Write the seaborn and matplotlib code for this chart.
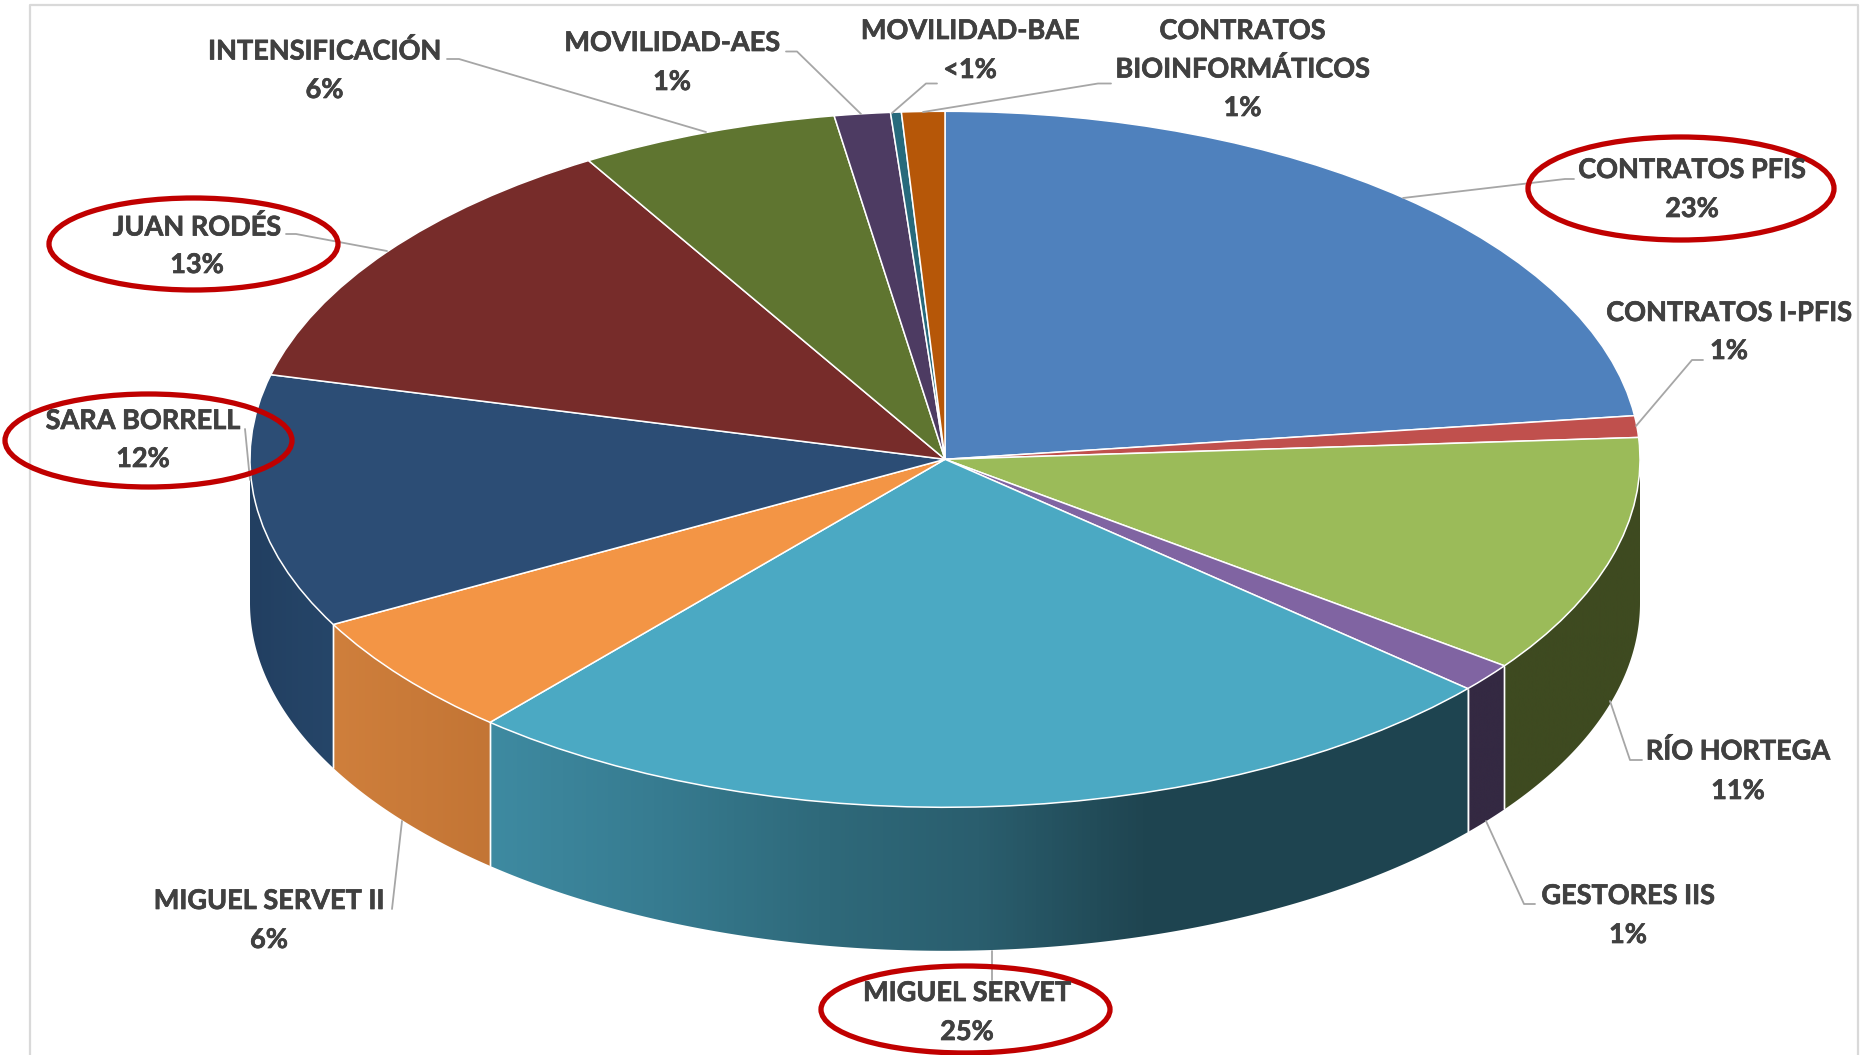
import numpy as np
import matplotlib
matplotlib.use("Agg")
import matplotlib.pyplot as plt
import matplotlib.patheffects as pe
from matplotlib.patches import Ellipse, Polygon
from matplotlib.colors import LinearSegmentedColormap
import seaborn as sns

# ---- data (clockwise from 12 o'clock) ----
categories = ["CONTRATOS PFIS", "CONTRATOS I-PFIS", "RÍO HORTEGA", "GESTORES IIS",
              "MIGUEL SERVET", "MIGUEL SERVET II", "SARA BORRELL", "JUAN RODÉS",
              "INTENSIFICACIÓN", "MOVILIDAD-AES", "MOVILIDAD-BAE",
              "CONTRATOS\nBIOINFORMÁTICOS"]
values = [23.0, 1.0, 11.11, 1.34, 24.91, 5.77, 11.78, 12.52, 6.02, 1.3, 0.25, 1.0]
pct_labels = ["23%", "1%", "11%", "1%", "25%", "6%", "12%", "13%", "6%", "1%", "<1%", "1%"]
highlighted = ["CONTRATOS PFIS", "MIGUEL SERVET", "SARA BORRELL", "JUAN RODÉS"]

top_colors = ["#4F81BD", "#C0504D", "#9BBB59", "#8064A2", "#4BA9C3", "#F39545",
              "#2C4D75", "#772C2A", "#5F7530", "#4D3B62", "#276A7C", "#B65708"]
wall_colors = {
    2: ["#3E4A20", "#3E4A20"],
    3: ["#342942", "#342942"],
    4: ["#3E8AA1", "#377C91", "#2F6A7B", "#2A5E6E", "#1F4551", "#1E4450", "#1E4450"],
    5: ["#CF7F3C", "#C37535"],
    6: ["#223F61", "#264669"],
}

# ---- layout in target pixels ----
W, H = 1868, 1055
CX, CY, RX, RY, DEPTH = 945, 459.3, 695, 348, 143.5
# (x centre, y of first line, y of the percentage)
label_pos = [(1692, 170, 209), (1729, 313, 351), (1738, 751, 791), (1628, 896, 935),
             (967, 993, 1032), (269, 901, 940), (143, 421, 459), (197, 227, 265),
             (324.5, 51, 90), (672, 43, 82), (970, 31, 70), (1242.5, 31, 108)]
leaders = [[(1574, 179), (1565, 179), (1403, 198)],
           [(1703, 360), (1692, 360), (1636, 426)],
           [(1642, 760), (1630, 760), (1610, 701)],
           [(1535, 904), (1524, 904), (1486, 821)],
           [(992, 951), (992, 980)],
           [(392, 909), (402, 821)],
           [(245, 429), (250, 480)],
           [(286, 234), (296, 234), (387, 251)],
           [(447, 59), (459, 59), (706, 132)],
           [(786, 51.5), (797, 51.5), (861, 114)],
           [(937, 83.5), (926, 83.5), (892, 113)],
           [(1111, 83.5), (1098, 83.5), (923, 112)]]
rings = {"CONTRATOS PFIS": (1528, 1834, 137, 240),
         "MIGUEL SERVET": (821, 1110, 966, 1053),
         "SARA BORRELL": (5, 292, 394, 487),
         "JUAN RODÉS": (49, 338, 198, 290)}

sns.set_theme(style="white")
plt.rcParams["font.family"] = ["Lato", "DejaVu Sans"]

fig = plt.figure(figsize=(W / 100, H / 100), dpi=100, facecolor="white")

# ---- pie axes: unit circle stretched into the tilted ellipse ----
ax = fig.add_axes([0, 0, 1, 1])
ax.pie(values, colors=sns.color_palette(top_colors), startangle=90, counterclock=False,
       radius=1, wedgeprops=dict(edgecolor="white", linewidth=1.1, zorder=5))
ax.set_aspect("auto")
ax.set_axis_off()

# ---- side walls of the front half ----
edges = np.concatenate([[0], np.cumsum(values)]) / np.sum(values) * 360
depth = DEPTH / RY
for i, stops in wall_colors.items():
    a0 = max(edges[i], 90)
    a1 = min(edges[i + 1], 270)
    th = np.radians(np.linspace(a0, a1, 200))
    xs, ys = np.sin(th), np.cos(th)
    verts = np.column_stack([np.r_[xs, xs[::-1]], np.r_[ys, ys[::-1] - depth]])
    poly = Polygon(verts, closed=True, facecolor="none", edgecolor="none", zorder=1)
    ax.add_patch(poly)
    cmap = LinearSegmentedColormap.from_list("w", stops)
    im = ax.imshow(np.linspace(0, 1, 256).reshape(1, -1), cmap=cmap, aspect="auto",
                   extent=(xs.min(), xs.max(), ys.min() - depth, ys.max()), zorder=2)
    im.set_clip_path(poly)
    # white vertical seams between slices
    for a in (edges[i], edges[i + 1]):
        if 90 < a < 270:
            t = np.radians(a)
            ax.plot([np.sin(t)] * 2, [np.cos(t), np.cos(t) - depth], color="white",
                    lw=1.0, zorder=3, solid_capstyle="butt")
ax.set_xlim((0 - CX) / RX, (W - CX) / RX)
ax.set_ylim((CY - H) / RY, CY / RY)
ax.set_aspect("auto")

# ---- overlay in pixel coordinates: frame, leaders, labels, red rings ----
ov = fig.add_axes([0, 0, 1, 1], facecolor="none")
ov.set_xlim(0, W)
ov.set_ylim(H, 0)
ov.set_axis_off()

ov.plot([30, 30, 1858, 1858], [H, 5, 5, H], color="#D9D9D9", lw=1.6, zorder=1)

for pts in leaders:
    px, py = zip(*pts)
    ov.plot(px, py, color="#A6A6A6", lw=1.3, zorder=2)

stroke = [pe.withStroke(linewidth=0.5, foreground="#404040")]
text_kw = dict(ha="center", va="center", color="#404040", fontweight="bold",
               fontsize=19.5, zorder=4, path_effects=stroke)
for name, pct, (x, y1, y2) in zip(categories, pct_labels, label_pos):
    parts = name.split("\n")
    if len(parts) == 2:
        ov.text(x, y1, parts[0], **text_kw)
        ov.text(x, 69, parts[1], **text_kw)
    else:
        ov.text(x, y1, name, **text_kw)
    ov.text(x, y2, pct, **text_kw)

for name in highlighted:
    x0, x1, y0, y1 = rings[name]
    ov.add_patch(Ellipse(((x0 + x1) / 2, (y0 + y1) / 2), x1 - x0, y1 - y0,
                         facecolor="none", edgecolor="#C00000", lw=3.8, zorder=3,
                         clip_on=False))

fig.savefig("out.png", dpi=100, facecolor="white")
